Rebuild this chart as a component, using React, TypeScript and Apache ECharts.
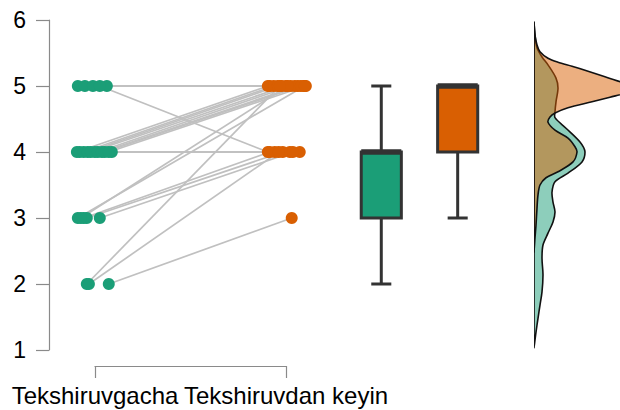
import React, { useEffect, useRef } from "react";
import * as echarts from "echarts";

// ---- data ----
const groupLabels = ["Tekshiruvgacha", "Tekshiruvdan keyin"];
const yTicks = [1, 2, 3, 4, 5, 6];

// one entry per subject (before / after)
const preValues = [5, 5, 5, 5, 5, 4, 4, 4, 4, 4, 4, 4, 4, 4, 4, 4, 3, 3, 3, 3, 3, 2, 2, 2];
const postValues = [5, 5, 5, 5, 4, 4, 4, 4, 5, 5, 5, 5, 5, 5, 5, 5, 4, 4, 4, 5, 5, 5, 4, 3];
// jittered horizontal positions (group 1 = before, group 2 = after)
const preX = [0.911, 0.948, 0.99, 1.063, 1.026, 1.089, 1.0, 0.921, 0.906, 0.942, 0.963, 0.979, 1.016, 1.037, 1.052, 1.073, 0.942, 0.958, 1.026, 0.911, 0.927, 0.958, 0.969, 1.073];
const postX = [1.916, 1.979, 2.047, 2.094, 1.906, 1.942, 2.021, 2.073, 1.906, 1.937, 1.958, 2.0, 2.026, 2.063, 2.079, 2.105, 1.916, 1.984, 2.037, 2.099, 2.01, 1.969, 1.963, 2.031];

// box plot statistics: [min, Q1, median, Q3, max]
const boxPositions = [2.5, 2.9];
const preBox = [2, 3, 4, 4, 5];
const postBox = [3, 4, 5, 5, 5];

// density profiles (value on the score axis, density)
const preDensV = [5.97, 5.77, 5.58, 5.44, 5.32, 5.12, 4.97, 4.76, 4.61, 4.52, 4.36, 4.15, 4.0, 3.85, 3.68, 3.55, 3.39, 3.24, 3.09, 2.94, 2.77, 2.59, 2.39, 2.14, 1.88, 1.68, 1.48, 1.27, 1.03];
const preDensD = [0, 0.01, 0.03, 0.08, 0.14, 0.22, 0.24, 0.22, 0.21, 0.21, 0.32, 0.46, 0.51, 0.48, 0.34, 0.21, 0.18, 0.19, 0.21, 0.19, 0.14, 0.09, 0.08, 0.09, 0.08, 0.06, 0.04, 0.02, 0];
const postDensV = [5.97, 5.77, 5.62, 5.52, 5.42, 5.36, 5.3, 5.24, 5.14, 5.06, 4.98, 4.91, 4.83, 4.76, 4.67, 4.59, 4.53, 4.45, 4.33, 4.21, 4.08, 4.0, 3.85, 3.7, 3.61, 3.5, 3.35, 3.15, 2.89, 2.7, 2.48];
const postDensD = [0, 0.01, 0.03, 0.06, 0.14, 0.24, 0.38, 0.51, 0.71, 0.87, 1.0, 0.95, 0.76, 0.58, 0.34, 0.21, 0.16, 0.14, 0.21, 0.34, 0.41, 0.43, 0.39, 0.24, 0.12, 0.06, 0.04, 0.03, 0.02, 0.01, 0];

const GREEN = "#1B9E77";
const ORANGE = "#D95F02";
const BOX_WIDTH = 0.21;
const FONT = "'Liberation Sans', Arial, Helvetica, sans-serif";
const AXIS_GRAY = "#8a8a8a";

function densitySeries(vals: number[], dens: number[], fill: string, z: number) {
  return {
    type: "custom",
    xAxisIndex: 2,
    yAxisIndex: 2,
    clip: true,
    silent: true,
    z,
    data: dens.map((d, i) => [d, vals[i]]),
    renderItem: (params: any, api: any) => {
      if (params.dataIndex !== 0) return null;
      const pts = dens.map((d, i) => api.coord([d, vals[i]]));
      return {
        type: "polygon",
        shape: {
          points: pts,
          smooth: 0.3,
          smoothConstraint: [
            [Infinity, Infinity],
            [-Infinity, -Infinity],
          ],
        },
        style: { fill, stroke: "#111", lineWidth: 1.6 },
      };
    },
  };
}

export default function App() {
  const ref = useRef<HTMLDivElement>(null);
  useEffect(() => {
    const chart = echarts.init(ref.current!, null, { renderer: "svg" });
    const boxColors = [GREEN, ORANGE];
    const option: any = {
      animation: false,
      grid: [
        { left: 49, right: 0, top: 20, bottom: 60 },
        { left: 95, right: 334, top: 20, bottom: 44 },
        { left: 534, right: 0, top: 20, bottom: 60 },
      ],
      xAxis: [
        { gridIndex: 0, type: "value", min: 0.76, max: 3.75, show: false },
        {
          gridIndex: 1,
          type: "value",
          position: "bottom",
          min: 1,
          max: 2,
          interval: 1,
          axisLine: { show: true, lineStyle: { color: AXIS_GRAY, width: 1.2 } },
          axisTick: { show: true, length: 12, lineStyle: { color: AXIS_GRAY, width: 1.2 } },
          axisLabel: {
            show: true,
            formatter: (v: number) => groupLabels[Math.round(v) - 1] || "",
            fontSize: 24,
            color: "#000",
            fontFamily: FONT,
            margin: 17,
            showMinLabel: true,
            showMaxLabel: true,
          },
          splitLine: { show: false },
        },
        { gridIndex: 2, type: "value", min: 0, max: 0.86, show: false },
      ],
      yAxis: [
        {
          gridIndex: 0,
          type: "value",
          min: yTicks[0],
          max: yTicks[yTicks.length - 1],
          interval: 1,
          axisLine: { show: true, lineStyle: { color: AXIS_GRAY, width: 1.2 } },
          axisTick: { show: true, length: 13, lineStyle: { color: AXIS_GRAY, width: 1.2 } },
          axisLabel: { fontSize: 23, color: "#000", fontFamily: FONT, margin: 23 },
          splitLine: { show: false },
        },
        { gridIndex: 1, type: "value", min: 0, max: 1, show: false },
        { gridIndex: 2, type: "value", min: 1, max: 6, show: false },
      ],
      series: [
        {
          type: "lines",
          coordinateSystem: "cartesian2d",
          xAxisIndex: 0,
          yAxisIndex: 0,
          silent: true,
          z: 1,
          lineStyle: { color: "#c0c0c0", width: 1.7, opacity: 1 },
          data: preValues.map((v, i) => ({
            coords: [
              [preX[i], v],
              [postX[i], postValues[i]],
            ],
          })),
        },
        {
          type: "scatter",
          xAxisIndex: 0,
          yAxisIndex: 0,
          symbol: "circle",
          symbolSize: 12,
          z: 3,
          itemStyle: { color: GREEN, opacity: 1 },
          data: preValues.map((v, i) => [preX[i], v]),
        },
        {
          type: "scatter",
          xAxisIndex: 0,
          yAxisIndex: 0,
          symbol: "circle",
          symbolSize: 12,
          z: 3,
          itemStyle: { color: ORANGE, opacity: 1 },
          data: postValues.map((v, i) => [postX[i], v]),
        },
        {
          type: "custom",
          xAxisIndex: 0,
          yAxisIndex: 0,
          silent: true,
          z: 2,
          encode: { x: 0, y: [1, 2, 3, 4, 5] },
          data: [
            [boxPositions[0], ...preBox],
            [boxPositions[1], ...postBox],
          ],
          renderItem: (params: any, api: any) => {
            const x = api.value(0);
            const [lo, q1, med, q3, hi] = [1, 2, 3, 4, 5].map((k) => api.value(k));
            const c = (v: number) => api.coord([x, v]);
            const half = api.size([BOX_WIDTH, 0])[0] / 2;
            const [cx, yLo] = c(lo);
            const yQ1 = c(q1)[1];
            const yMed = c(med)[1];
            const yQ3 = c(q3)[1];
            const yHi = c(hi)[1];
            const dark = "#333333";
            const ln = (x1: number, y1: number, x2: number, y2: number, w: number) => ({
              type: "line",
              shape: { x1, y1, x2, y2 },
              style: { stroke: dark, lineWidth: w },
            });
            return {
              type: "group",
              children: [
                ln(cx, yLo, cx, yQ1, 3),
                ln(cx, yQ3, cx, yHi, 3),
                ln(cx - half / 2, yLo, cx + half / 2, yLo, 3),
                ln(cx - half / 2, yHi, cx + half / 2, yHi, 3),
                {
                  type: "rect",
                  shape: { x: cx - half, y: yQ3, width: 2 * half, height: yQ1 - yQ3 },
                  style: { fill: boxColors[params.dataIndex], stroke: dark, lineWidth: 3 },
                },
                ln(cx - half, yMed, cx + half, yMed, 5.5),
              ],
            };
          },
        },
        densitySeries(preDensV, preDensD, "rgba(27,158,119,0.5)", 4),
        densitySeries(postDensV, postDensD, "rgba(217,95,2,0.5)", 5),
        { type: "scatter", xAxisIndex: 1, yAxisIndex: 1, data: [] },
      ],
    };
    chart.setOption(option);
    return () => chart.dispose();
  }, []);
  return (
    <div
      ref={ref}
      style={{ position: "fixed", left: 0, top: 0, width: 620, height: 410, background: "#fff" }}
    />
  );
}
